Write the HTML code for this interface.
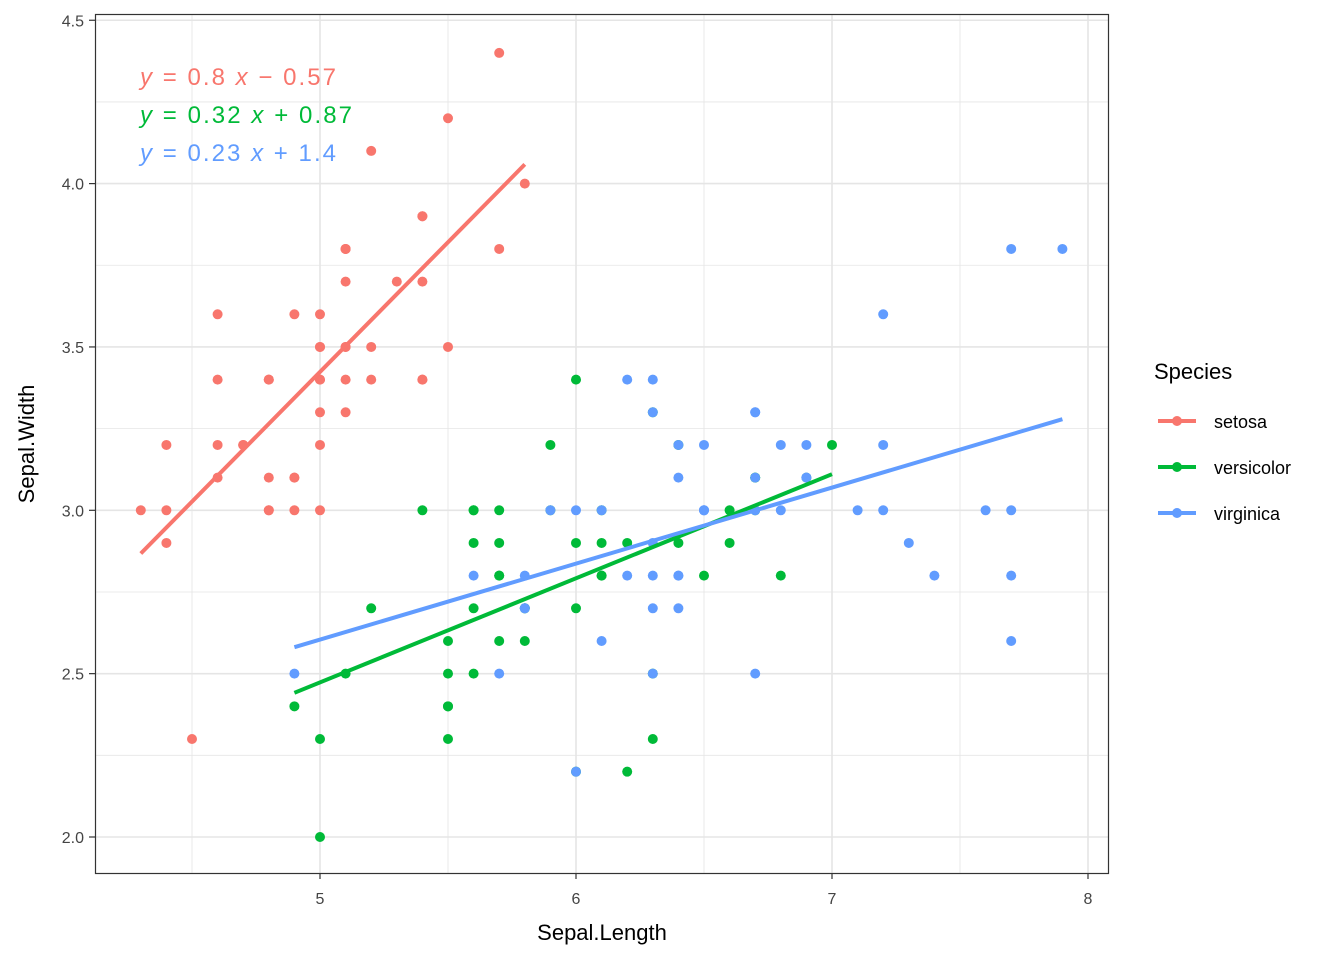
<!DOCTYPE html>
<html><head><meta charset="utf-8"><style>
html,body{margin:0;padding:0;background:#fff}
svg{display:block;font-family:"Liberation Sans",Arial,sans-serif}
</style></head><body>
<svg id="s" width="1344" height="960" viewBox="0 0 1344 960">
<rect width="1344" height="960" fill="#fff"/>
<g id="grid"></g>
<g id="pts"></g>
<line x1="140.8" y1="553.5" x2="524.8" y2="164.4" stroke="#F8766D" stroke-width="4"/>
<line x1="294.4" y1="692.8" x2="832" y2="474.2" stroke="#00BA38" stroke-width="4"/>
<line x1="294.4" y1="647.2" x2="1062.4" y2="419.2" stroke="#619CFF" stroke-width="4"/>
<rect x="95.5" y="14.5" width="1013" height="859" fill="none" stroke="#333" stroke-width="1.2"/>
<g font-size="24">
<text x="140" y="85" fill="#F8766D" textLength="196" lengthAdjust="spacing"><tspan font-style="italic">y</tspan> = 0.8 <tspan font-style="italic">x</tspan> − 0.57</text>
<text x="140" y="123" fill="#00BA38" textLength="212" lengthAdjust="spacing"><tspan font-style="italic">y</tspan> = 0.32 <tspan font-style="italic">x</tspan> + 0.87</text>
<text x="140" y="161" fill="#619CFF" textLength="196" lengthAdjust="spacing"><tspan font-style="italic">y</tspan> = 0.23 <tspan font-style="italic">x</tspan> + 1.4</text>
</g>
<g id="ticks" font-size="16" fill="#444"></g>
<text x="602" y="940" font-size="22" text-anchor="middle">Sepal.Length</text>
<text transform="translate(34,444) rotate(-90)" font-size="22" text-anchor="middle">Sepal.Width</text>
<text x="1154" y="379" font-size="22">Species</text>
<g font-size="18">
<line x1="1158" y1="421" x2="1196" y2="421" stroke="#F8766D" stroke-width="4"/><circle cx="1177" cy="421" r="5" fill="#F8766D"/><text x="1214" y="428">setosa</text>
<line x1="1158" y1="467" x2="1196" y2="467" stroke="#00BA38" stroke-width="4"/><circle cx="1177" cy="467" r="5" fill="#00BA38"/><text x="1214" y="474">versicolor</text>
<line x1="1158" y1="513" x2="1196" y2="513" stroke="#619CFF" stroke-width="4"/><circle cx="1177" cy="513" r="5" fill="#619CFF"/><text x="1214" y="520">virginica</text>
</g>
</svg>
<script>
var NS="http://www.w3.org/2000/svg";
function X(v){return 320+(v-5)*256}
function Y(v){return 837-(v-2)*326.7}
function el(p,t,a,txt){var e=document.createElementNS(NS,t);for(var k in a)e.setAttribute(k,a[k]);if(txt)e.textContent=txt;document.getElementById(p).appendChild(e);return e}
for(var v=4.5;v<=8.01;v+=0.5){var maj=Math.abs(v-Math.round(v))<1e-6;el("grid","line",{x1:X(v),x2:X(v),y1:14,y2:873,stroke:"#e5e5e5","stroke-width":maj?1.6:0.8})}
for(var v=2;v<=4.51;v+=0.25){var maj=Math.abs(v*2-Math.round(v*2))<1e-6;el("grid","line",{x1:95,x2:1108,y1:Y(v),y2:Y(v),stroke:"#e5e5e5","stroke-width":maj?1.6:0.8})}
[5,6,7,8].forEach(function(v){el("ticks","line",{x1:X(v),x2:X(v),y1:873,y2:879,stroke:"#333","stroke-width":1.2});el("ticks","text",{x:X(v),y:904,"text-anchor":"middle"},""+v)});
["2.0","2.5","3.0","3.5","4.0","4.5"].forEach(function(s){var v=+s;el("ticks","line",{x1:89,x2:95,y1:Y(v),y2:Y(v),stroke:"#333","stroke-width":1.2});el("ticks","text",{x:84,y:Y(v)+6,"text-anchor":"end"},s)});
var se="5.1 3.5,4.9 3.0,4.7 3.2,4.6 3.1,5.0 3.6,5.4 3.9,4.6 3.4,5.0 3.4,4.4 2.9,4.9 3.1,5.4 3.7,4.8 3.4,4.8 3.0,4.3 3.0,5.8 4.0,5.7 4.4,5.4 3.9,5.1 3.5,5.7 3.8,5.1 3.8,5.4 3.4,5.1 3.7,4.6 3.6,5.1 3.3,4.8 3.4,5.0 3.0,5.0 3.4,5.2 3.5,5.2 3.4,4.7 3.2,4.8 3.1,5.4 3.4,5.2 4.1,5.5 4.2,4.9 3.1,5.0 3.2,5.5 3.5,4.9 3.6,4.4 3.0,5.1 3.4,5.0 3.5,4.5 2.3,4.4 3.2,5.0 3.5,5.1 3.8,4.8 3.0,5.1 3.8,4.6 3.2,5.3 3.7,5.0 3.3";
var ve="7.0 3.2,6.4 3.2,6.9 3.1,5.5 2.3,6.5 2.8,5.7 2.8,6.3 3.3,4.9 2.4,6.6 2.9,5.2 2.7,5.0 2.0,5.9 3.0,6.0 2.2,6.1 2.9,5.6 2.9,6.7 3.1,5.6 3.0,5.8 2.7,6.2 2.2,5.6 2.5,5.9 3.2,6.1 2.8,6.3 2.5,6.1 2.8,6.4 2.9,6.6 3.0,6.8 2.8,6.7 3.0,6.0 2.9,5.7 2.6,5.5 2.4,5.5 2.4,5.8 2.7,6.0 2.7,5.4 3.0,6.0 3.4,6.7 3.1,6.3 2.3,5.6 3.0,5.5 2.5,5.5 2.6,6.1 3.0,5.8 2.6,5.0 2.3,5.6 2.7,5.7 3.0,5.7 2.9,6.2 2.9,5.1 2.5,5.7 2.8";
var vi="6.3 3.3,5.8 2.7,7.1 3.0,6.3 2.9,6.5 3.0,7.6 3.0,4.9 2.5,7.3 2.9,6.7 2.5,7.2 3.6,6.5 3.2,6.4 2.7,6.8 3.0,5.7 2.5,5.8 2.8,6.4 3.2,6.5 3.0,7.7 3.8,7.7 2.6,6.0 2.2,6.9 3.2,5.6 2.8,7.7 2.8,6.3 2.7,6.7 3.3,7.2 3.2,6.2 2.8,6.1 3.0,6.4 2.8,7.2 3.0,7.4 2.8,7.9 3.8,6.4 2.8,6.3 2.8,6.1 2.6,7.7 3.0,6.3 3.4,6.4 3.1,6.0 3.0,6.9 3.1,6.7 3.1,6.9 3.1,5.8 2.7,6.8 3.2,6.7 3.3,6.7 3.0,6.3 2.5,6.5 3.0,6.2 3.4,5.9 3.0";
[[se,"#F8766D"],[ve,"#00BA38"],[vi,"#619CFF"]].forEach(function(d){d[0].split(",").forEach(function(p){var a=p.split(" ");el("pts","circle",{cx:X(+a[0]),cy:Y(+a[1]),r:5,fill:d[1]})})});
</script>
</body></html>
